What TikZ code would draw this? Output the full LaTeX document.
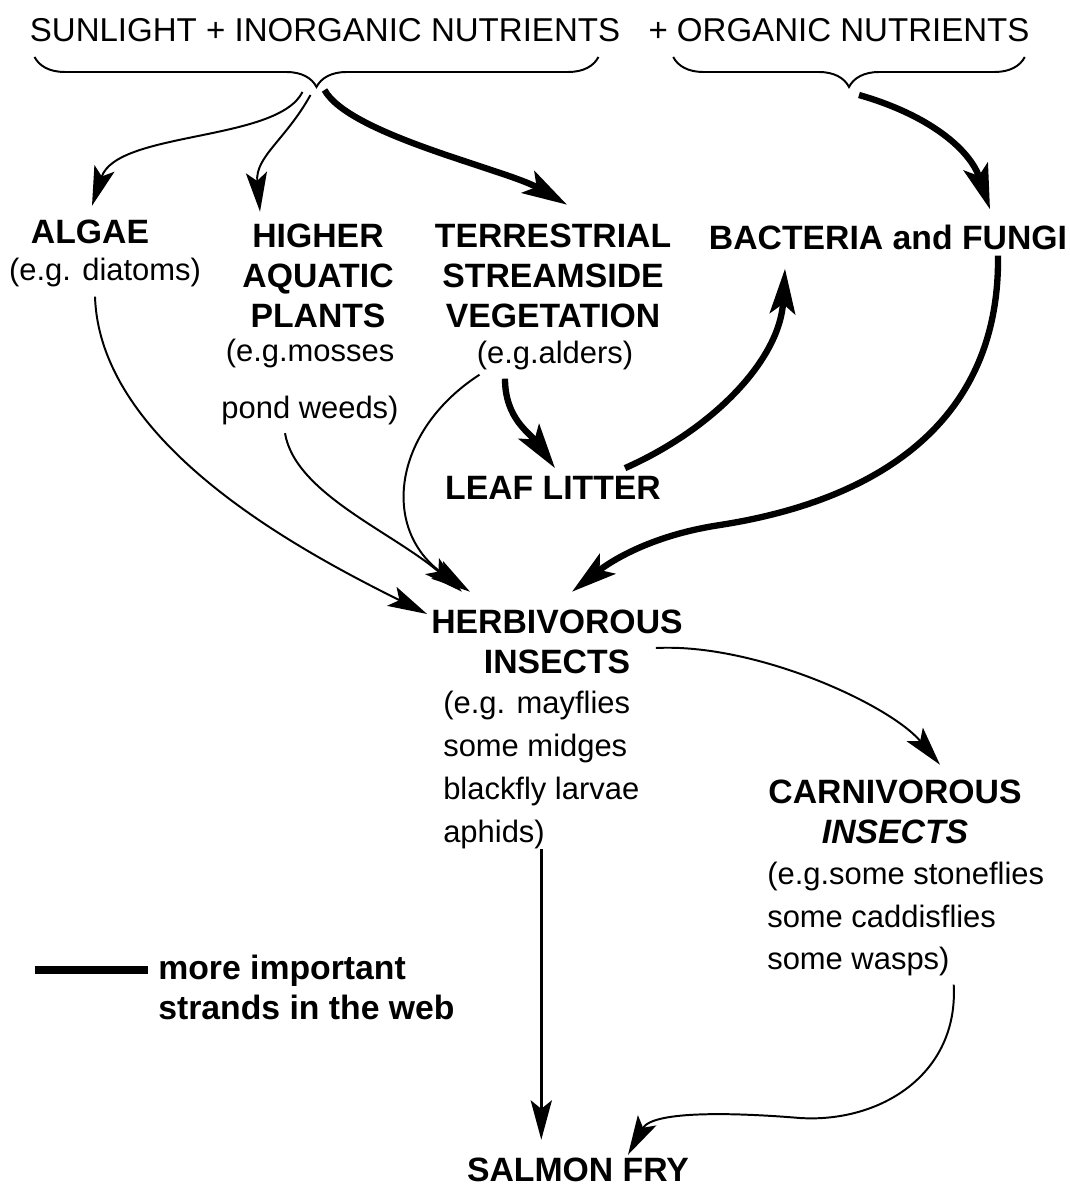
\documentclass[tikz,border=0pt]{standalone}
\usepackage{fontspec}
\setmainfont{Liberation Sans}
\usetikzlibrary{arrows.meta,decorations.pathreplacing}

\begin{document}
\begin{tikzpicture}[x=0.025cm,y=0.025cm]
        \tikzstyle{every node}=[inner sep=0pt, align=center]
        \tikzstyle{title}=[font=\fontsize{23.5}{28}\selectfont]
        \tikzstyle{head}=[font=\fontsize{24}{28.5}\selectfont\bfseries]
        \tikzstyle{note}=[font=\fontsize{22}{30.5}\selectfont]
        \tikzstyle{strand}=[line width=1.4pt, -{Stealth[length=28pt,width=15pt,inset=6pt]}]
        \tikzstyle{main strand}=[line width=4.5pt, -{Stealth[length=32pt,width=18pt,inset=7pt]}]
        \tikzstyle{curly}=[decorate, decoration={brace, mirror, amplitude=0.75cm}, line width=1.4pt]
        \useasboundingbox (0,0) rectangle (1070,-1192);

        \node[title] (sun) at (325,-30) {SUNLIGHT + INORGANIC NUTRIENTS};
        \node[title] (org) at (839,-30) {+ ORGANIC NUTRIENTS};
        \draw[curly] ([shift={(5,-15)}]sun.south west) -- ([shift={(-22,-15)}]sun.south east)
            coordinate[midway, yshift=-0.75cm] (sunbrace);
        \draw[curly] ([shift={(25,-15)}]org.south west) -- ([shift={(-5,-15)}]org.south east)
            coordinate[midway, yshift=-0.75cm] (orgbrace);

        \node[head] (algae) at (90,-232) {ALGAE};
        \node[note] (algaeeg) at (105,-272) {(e.g. diatoms)};
        \node[head] (higher) at (318,-276) {HIGHER\\AQUATIC\\PLANTS};
        \node[note] (highereg) at (310,-382) {(e.g.mosses\\[10pt]pond weeds)};
        \node[head] (terr) at (553,-276) {TERRESTRIAL\\STREAMSIDE\\VEGETATION};
        \node[note] (terreg) at (555,-355) {(e.g.alders)};
        \node[head] (bact) at (888,-237) {BACTERIA and FUNGI};
        \node[head] (litter) at (553,-488) {LEAF LITTER};
        \node[head] (herb) at (557,-642) {HERBIVOROUS\\INSECTS};
        \node[note, align=left, anchor=west] (herbeg) at (443,-770) {(e.g. mayflies\\some midges\\blackfly larvae\\aphids)};
        \node[head] (carn) at (895,-812) {CARNIVOROUS\\\textit{INSECTS}};
        \node[note, align=left, anchor=west] (carneg) at (767,-919) {(e.g.some stoneflies\\some caddisflies\\some wasps)};
        \node[head] (salmon) at (578,-1170) {SALMON FRY};
        \node[head, align=left, anchor=west] (key) at (158,-987) {more important\\strands in the web};
        \draw[line width=5pt] ([xshift=-7pt]key.west |- 0,-970) coordinate (keyend) -- ++(-113,0);

        \draw[strand] ([shift={(-14,-5)}]sunbrace) .. controls +(-25,-50) and +(25,75) .. ([shift={(2,14)}]algae.north);
        \draw[strand] ([shift={(-6,-8)}]sunbrace) .. controls +(-25,-45) and +(-5,55) .. ([shift={(-58,12)}]higher.north);
        \draw[main strand] ([shift={(8,-3)}]sunbrace) .. controls +(25,-45) and +(-60,35) .. ([shift={(14,19)}]terr.north);
        \draw[main strand] ([shift={(10,-8)}]orgbrace) .. controls +(70,-20) and +(-20,60) .. ([shift={(102,15)}]bact.north);

        \draw[strand] ([shift={(-10,-10)}]algaeeg.south) .. controls +(5,-150) and +(-120,60) .. ([shift={(-4,28)}]herb.west);
        \draw[strand] ([shift={(-25,-8)}]highereg.south) .. controls +(10,-60) and +(-70,60) .. ([shift={(-95,18)}]herb.north);
        \draw[strand] ([shift={(3,-5)}]terreg.south west) .. controls +(-88,-57) and +(-90,60) .. ([shift={(-87,18)}]herb.north);
        \draw[main strand] ([shift={(-50,-9)}]terreg.south) .. controls +(0,-40) and +(-25,35) .. ([shift={(2,8)}]litter.north);
        \draw[main strand] ([shift={(72,8)}]litter.north) .. controls +(90,40) and +(-5,-90) .. ([shift={(-103,-19)}]bact.south);
        \draw[main strand] ([shift={(110,-6)}]bact.south) .. controls +(2,-165) and +(160,25) .. (720,-525)
            .. controls +(-80,-12) and +(28,22) .. ([shift={(15,18)}]herb.north);

        \draw[strand] ([shift={(-27,-6)}]herb.east) .. controls +(100,5) and +(-50,60) .. ([shift={(45,15)}]carn.north);
        \path (herbeg.south |- salmon.north) ++(0,18) coordinate (fryin);
        \draw[strand, line width=2.4pt] (herbeg.south) -- (fryin);
        \draw[strand] ([shift={(48,-8)}]carneg.south) .. controls +(5,-90) and +(80,-5) .. (800,-1118)
            .. controls +(-60,5) and +(25,45) .. ([shift={(50,3)}]salmon.north);
\end{tikzpicture}
\end{document}
